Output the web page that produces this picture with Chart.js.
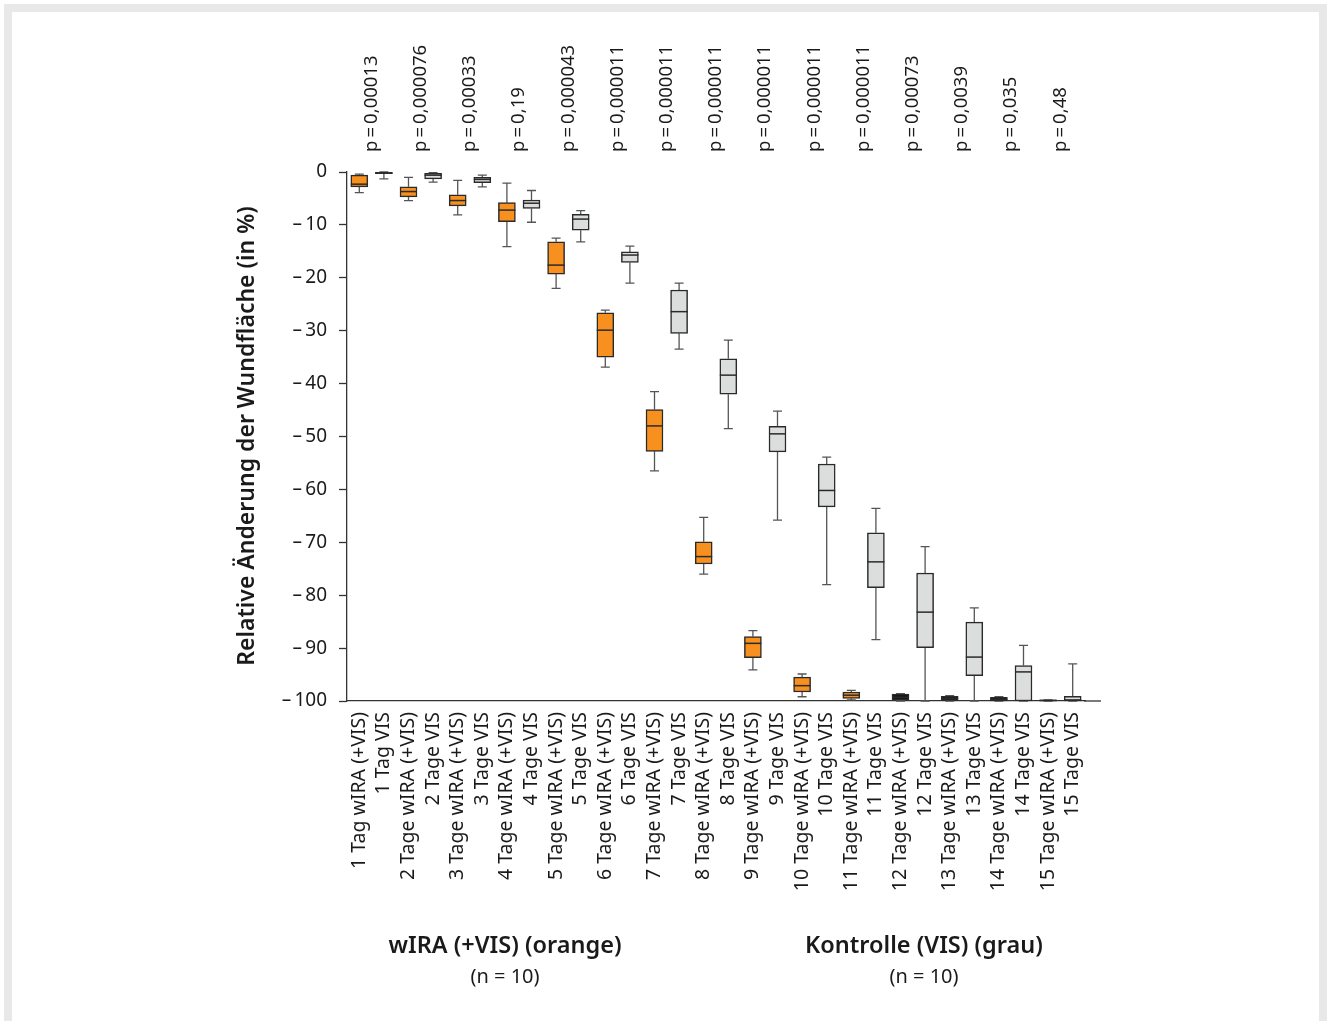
<!DOCTYPE html>
<html>
<head>
<meta charset="utf-8">
<script src="https://cdn.jsdelivr.net/npm/chart.js@4.4.1/dist/chart.umd.min.js"></script>
<style>
  html, body { margin: 0; padding: 0; background: #fff; width: 1330px; height: 1021px; overflow: hidden; }
  #frame { position: absolute; left: 4px; top: 4px; width: 1307px; height: 1100px; border: 8px solid #e8e8e8; box-sizing: content-box; }
  #wrap { position: absolute; left: 0; top: 0; width: 1330px; height: 1021px; }
  .grp { position: absolute; font-family: "Noto Sans", sans-serif; color: #1a1a1a; text-align: center; transform: translateX(-50%); white-space: nowrap; }
  .grp .t { font-size: 23.5px; font-weight: 600; line-height: 30px; }
  .grp .n { font-size: 20px; line-height: 34px; }
</style>
</head>
<body>
<div id="frame"></div>
<div id="wrap"><canvas id="c" width="1330" height="1021"></canvas></div>
<div class="grp" style="left:505px; top:929px;"><div class="t">wIRA (+VIS) (orange)</div><div class="n">(n = 10)</div></div>
<div class="grp" style="left:924px; top:929px;"><div class="t">Kontrolle (VIS) (grau)</div><div class="n">(n = 10)</div></div>
<script>
// ---- data ----
const days = [1,2,3,4,5,6,7,8,9,10,11,12,13,14,15];
const categories = [];
days.forEach(d => {
  const unit = d === 1 ? 'Tag' : 'Tage';
  categories.push(d + ' ' + unit + ' wIRA (+VIS)');
  categories.push(d + ' ' + unit + ' VIS');
});
const pValues = ['0,00013','0,000076','0,00033','0,19','0,000043','0,000011','0,000011','0,000011','0,000011','0,000011','0,000011','0,00073','0,0039','0,035','0,48'];

// wIRA (+VIS) group, relative change in %
const wiraMax = [-0.4, -1.0, -1.6, -2.1, -12.5, -26.1, -41.5, -65.3, -86.7, -94.9, -98.0, -98.6, -99.0, -99.2, -99.8];
const wiraQ3  = [-0.6, -2.8, -4.3, -5.8, -13.2, -26.6, -44.9, -69.9, -87.8, -95.5, -98.3, -98.7, -99.1, -99.3, -99.8];
const wiraMed = [-2.3, -3.7, -5.4, -7.2, -17.6, -29.9, -48.0, -72.7, -89.1, -97.1, -98.9, -99.3, -99.5, -99.7, -99.9];
const wiraQ1  = [-2.8, -4.7, -6.4, -9.4, -19.3, -35.0, -52.8, -74.1, -91.8, -98.3, -99.5, -99.8, -99.9, -100, -100];
const wiraMin = [-3.9, -5.4, -8.1, -14.1, -22.0, -36.9, -56.5, -76.0, -94.1, -99.2, -99.8, -100, -100, -100, -100];

// Kontrolle (VIS) group
const visMax = [0, -0.1, -0.6, -3.5, -7.3, -14.0, -21.0, -31.8, -45.2, -53.9, -63.6, -70.8, -82.4, -89.5, -93.0];
const visQ3  = [-0.05, -0.25, -1.0, -5.3, -8.0, -15.1, -22.3, -35.3, -48.1, -55.2, -68.2, -75.8, -85.1, -93.3, -99.1];
const visMed = [-0.2, -0.6, -1.4, -5.9, -8.9, -15.7, -26.4, -38.4, -49.5, -60.2, -73.7, -83.2, -91.7, -94.5, -99.8];
const visQ1  = [-0.3, -1.3, -2.0, -6.9, -11.0, -17.1, -30.5, -42.0, -52.9, -63.3, -78.6, -89.9, -95.2, -100, -100];
const visMin = [-1.3, -1.9, -2.8, -9.5, -13.2, -21.0, -33.5, -48.5, -65.8, -78.0, -88.4, -100, -100, -100, -100];

const yTicks = [0, -10, -20, -30, -40, -50, -60, -70, -80, -90, -100];

// ---- build interleaved stats ----
const stats = [];
days.forEach((d, i) => {
  stats.push({ max: wiraMax[i], q3: wiraQ3[i], med: wiraMed[i], q1: wiraQ1[i], min: wiraMin[i], group: 'w' });
  stats.push({ max: visMax[i], q3: visQ3[i], med: visMed[i], q1: visQ1[i], min: visMin[i], group: 'v' });
});

// styles
const ORANGE = '#f7901e', GREY = '#dcdddd', DARK = '#111111';
const darkCategories = ['1 Tag VIS', '12 Tage wIRA (+VIS)', '13 Tage wIRA (+VIS)', '14 Tage wIRA (+VIS)', '15 Tage wIRA (+VIS)'];
const fills = categories.map((c, i) => darkCategories.includes(c) ? DARK : (stats[i].group === 'w' ? ORANGE : GREY));
const FONT = '"Noto Sans", sans-serif';
const BOXW = 17;

const boxPlugin = {
  id: 'boxExtras',
  beforeDatasetsDraw(chart) {
    const ctx = chart.ctx, xs = chart.scales.x, ys = chart.scales.y;
    ctx.save();
    ctx.strokeStyle = '#555';
    ctx.lineWidth = 1.3;
    stats.forEach((s, i) => {
      const x = xs.getPixelForValue(i);
      const yMax = ys.getPixelForValue(s.max), yQ3 = ys.getPixelForValue(s.q3);
      const yQ1 = ys.getPixelForValue(s.q1), yMin = ys.getPixelForValue(s.min);
      ctx.beginPath();
      ctx.moveTo(x, yMax); ctx.lineTo(x, yQ3);
      ctx.moveTo(x, yQ1); ctx.lineTo(x, yMin);
      ctx.moveTo(x - 4.5, yMax); ctx.lineTo(x + 4.5, yMax);
      ctx.moveTo(x - 4.5, yMin); ctx.lineTo(x + 4.5, yMin);
      ctx.stroke();
    });
    ctx.restore();
  },
  afterDatasetsDraw(chart) {
    const ctx = chart.ctx, xs = chart.scales.x, ys = chart.scales.y;
    ctx.save();
    ctx.strokeStyle = '#2a2a2a';
    ctx.lineWidth = 1.5;
    stats.forEach((s, i) => {
      const x = xs.getPixelForValue(i);
      const y = ys.getPixelForValue(s.med);
      ctx.beginPath();
      ctx.moveTo(x - BOXW / 2, y); ctx.lineTo(x + BOXW / 2, y);
      ctx.stroke();
    });
    // extend x axis line
    const yb = ys.getPixelForValue(-100);
    ctx.strokeStyle = '#333';
    ctx.lineWidth = 1.3;
    ctx.beginPath();
    ctx.moveTo(chart.chartArea.right - 1, yb); ctx.lineTo(1101, yb);
    ctx.stroke();
    ctx.restore();
  },
  afterDraw(chart) {
    const ctx = chart.ctx, xs = chart.scales.x;
    ctx.save();
    ctx.fillStyle = '#1a1a1a';
    ctx.font = '18.5px ' + FONT;
    pValues.forEach((p, k) => {
      const x = (xs.getPixelForValue(2 * k) + xs.getPixelForValue(2 * k + 1)) / 2;
      ctx.save();
      ctx.translate(x, 152);
      ctx.rotate(-Math.PI / 2);
      ctx.textAlign = 'left';
      ctx.textBaseline = 'middle';
      ctx.fillText('p\u2009=\u2009' + p, 0, 0);
      ctx.restore();
    });
    // y title
    ctx.save();
    ctx.translate(247, 436);
    ctx.rotate(-Math.PI / 2);
    ctx.textAlign = 'center';
    ctx.textBaseline = 'middle';
    ctx.font = '600 23px ' + FONT;
    ctx.fillText('Relative Änderung der Wundfläche (in %)', 0, 0);
    ctx.restore();
    ctx.restore();
  }
};

new Chart(document.getElementById('c'), {
  type: 'bar',
  data: {
    labels: categories,
    datasets: [{
      data: stats.map(s => [s.q1, s.q3]),
      backgroundColor: fills,
      borderColor: '#2a2a2a',
      borderWidth: 1.5,
      borderSkipped: false,
      barThickness: BOXW,
      clip: false
    }]
  },
  options: {
    responsive: false,
    animation: false,
    devicePixelRatio: 1,
    layout: { padding: { left: 0, top: 172, right: 245, bottom: 0 } },
    plugins: { legend: { display: false }, tooltip: { enabled: false } },
    scales: {
      x: {
        type: 'category',
        offset: true,
        grid: { display: false, drawTicks: false },
        border: { display: true, color: '#333', width: 1.3 },
        ticks: {
          autoSkip: false, maxRotation: 90, minRotation: 90, padding: 11,
          color: '#1a1a1a', font: { family: FONT, size: 19.5 }
        },
        afterFit(scale) { scale.height = 320; }
      },
      y: {
        type: 'linear',
        min: -100, max: 0,
        afterBuildTicks(scale) { scale.ticks = yTicks.map(v => ({ value: v })); },
        grid: { display: true, drawOnChartArea: false, drawTicks: true, tickLength: 8, tickColor: '#333', tickWidth: 1.3 },
        border: { display: true, color: '#333', width: 1.3 },
        ticks: {
          padding: 12, color: '#1a1a1a', font: { family: FONT, size: 19 },
          callback: v => v === 0 ? '0' : '\u2013\u2009' + Math.abs(v)
        },
        afterFit(scale) { scale.width = 347; }
      }
    }
  },
  plugins: [boxPlugin]
});
</script>
</body>
</html>
